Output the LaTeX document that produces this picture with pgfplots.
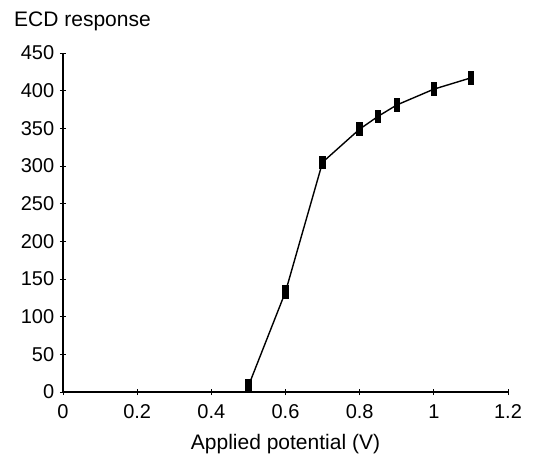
\documentclass[border=0pt]{standalone}
\usepackage{fontspec}
\setmainfont{Liberation Sans}
\usepackage{pgfplots}
\pgfplotsset{compat=1.18}

\begin{document}
\begin{tikzpicture}
\fontsize{20bp}{23bp}\selectfont
\begin{axis}[
    scale only axis,
    width=445bp, height=339bp,
    xmin=0, xmax=1.2,
    ymin=0, ymax=450,
    xtick={0,0.2,...,1.2},
    ytick={0,50,...,450},
    axis lines*=left,
    axis line style={line width=1.1bp},
    tick align=center,
    major tick length=6bp,
    tick style={black, line width=0.8bp},
    /pgf/number format/assume math mode=true,
    ticklabel style={font=\fontsize{20bp}{23bp}\selectfont},
    xticklabel style={yshift=-3bp},
    yticklabel style={xshift=1bp},
    xlabel={Applied potential (V)},
    xlabel style={font=\fontsize{21bp}{25bp}\selectfont, yshift=-2bp},
    ylabel={ECD response},
    ylabel style={font=\fontsize{21bp}{25bp}\selectfont, rotate=-90, anchor=base west,
        at={(axis description cs:-0.125,1.077)}},
    clip=false,
]
\addplot[black, line width=1.4bp, mark=square*,
    mark options={xscale=0.42, yscale=1.0}, mark size=6bp]
    coordinates {
    (0.5,8) (0.6,133) (0.7,305) (0.8,349) (0.85,366) (0.9,381) (1.0,402) (1.1,417)
    };
\end{axis}
\pgfresetboundingbox
\path (-63bp,-67bp) rectangle (481bp,392bp);
\end{tikzpicture}
\end{document}
